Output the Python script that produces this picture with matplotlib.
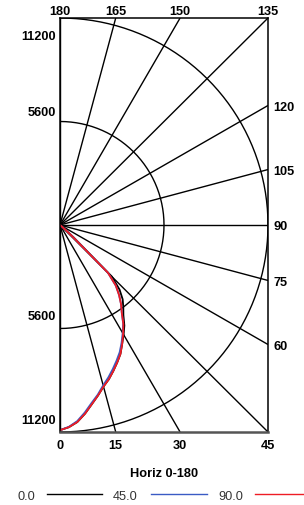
import matplotlib
matplotlib.use('Agg')
import matplotlib.pyplot as plt
import matplotlib.transforms as mtrans
from matplotlib.lines import Line2D
import numpy as np
import math

plt.rcParams['font.family'] = ['Liberation Sans', 'DejaVu Sans']

# angles from nadir (0 = down, 90 = horizontal), intensities in cd
angles = [0, 2.5, 5, 7.5, 10, 12.5, 15, 17.5, 20, 22.5, 25, 27.5, 30, 32.5,
          35, 37.5, 40, 42.5, 45, 47.5, 50, 55, 60, 65, 70, 75, 80, 85, 90]
cd_00 = [11100, 10950, 10700, 10300, 9850, 9450, 9050, 8750, 8400, 8050, 7700, 7250, 6850, 6450,
         5950, 5600, 5250, 4750, 3950, 1000, 150, 0, 0, 0, 0, 0, 0, 0, 0]
cd_45 = [11100, 10930, 10650, 10230, 9780, 9400, 8980, 8650, 8300, 7950, 7600, 7180, 6750, 6330,
         5800, 5400, 4950, 4450, 3650, 800, 150, 0, 0, 0, 0, 0, 0, 0, 0]
cd_90 = [11100, 10950, 10700, 10300, 9850, 9450, 9050, 8750, 8400, 8050, 7700, 7250, 6800, 6350,
         5800, 5400, 4950, 4450, 3650, 800, 150, 0, 0, 0, 0, 0, 0, 0, 0]

series = [cd_00, cd_45, cd_90]
series_names = ['0.0', '45.0', '90.0']
series_colors = ['black', '#3a5bc4', '#ee1c24']

spoke_angles = list(range(0, 181, 15))
ring_values = [5600, 11200]
R = 11200
title = 'Horiz 0-180'

W, H = 304, 506
fig = plt.figure(figsize=(W / 100, H / 100), dpi=100)
ax = fig.add_axes([60 / W, 73 / H, 208 / W, 414 / H])
ax.set_xlim(0, R)
ax.set_ylim(-R, R)
ax.set_xticks([])
ax.set_yticks([])
for s in ['left', 'top', 'right']:
    ax.spines[s].set_linewidth(1.1)
    ax.spines[s].set_color('black')
ax.spines['bottom'].set_linewidth(1.8)
ax.spines['bottom'].set_color('#555555')

def px(x, y):
    return x / W, 1 - y / H

FS = 9.2
lab = dict(fontsize=FS, fontweight='bold', color='black')

# spokes + angle labels
for a in spoke_angles:
    t = math.radians(a)
    dx, dy = math.sin(t), -math.cos(t)
    k = min(R / abs(dx) if abs(dx) > 1e-9 else 1e9, R / abs(dy) if abs(dy) > 1e-9 else 1e9)
    xe, ye = dx * k, dy * k
    ax.plot([0, xe], [0, ye], color='black', lw=1.0, solid_capstyle='butt')
    if a >= 135:
        tr = mtrans.offset_copy(ax.transData, fig, x=0, y=4, units='dots')
        ax.text(xe, R, str(a), transform=tr, ha='center', va='baseline', **lab)
    elif a > 45:
        tr = mtrans.offset_copy(ax.transData, fig, x=5, y=-4.5, units='dots')
        ax.text(R, ye, str(a), transform=tr, ha='left', va='baseline', **lab)
    else:
        tr = mtrans.offset_copy(ax.transData, fig, x=0, y=-16.5, units='dots')
        ax.text(xe, -R, str(a), transform=tr, ha='center', va='baseline', **lab)

# rings
phi = np.linspace(0, np.pi, 241)
for r in ring_values:
    ax.plot(r * np.sin(phi), -r * np.cos(phi), color='black', lw=1.0)

# ring labels on left side
ring_label_y = [39.5, 116.5, 319.5, 424]
ring_label_txt = ['11200', '5600', '5600', '11200']
for yy, tx in zip(ring_label_y, ring_label_txt):
    fig.text(*px(56, yy), tx, ha='right', va='baseline', **lab)

# curves
th = np.radians(angles)
for vals, c in zip(series, series_colors):
    v = np.array(vals)
    ax.plot(v * np.sin(th), -v * np.cos(th), color=c, lw=1.3)

fig.text(*px(164, 476.7), title, ha='center', va='baseline', **lab)

# legend row
leg_text_x = [17, 113, 218]
leg_line_x = [(47, 102), (151, 207), (255, 310)]
for tx, (x0, x1), name, c in zip(leg_text_x, leg_line_x, series_names, series_colors):
    fig.text(*px(tx, 500), name, ha='left', va='baseline', fontsize=FS, color='#333333')
    fig.add_artist(Line2D([x0 / W, x1 / W], [1 - 495 / H, 1 - 495 / H], color=c, lw=1.0,
                          transform=fig.transFigure))

fig.savefig('out.png', dpi=100)
